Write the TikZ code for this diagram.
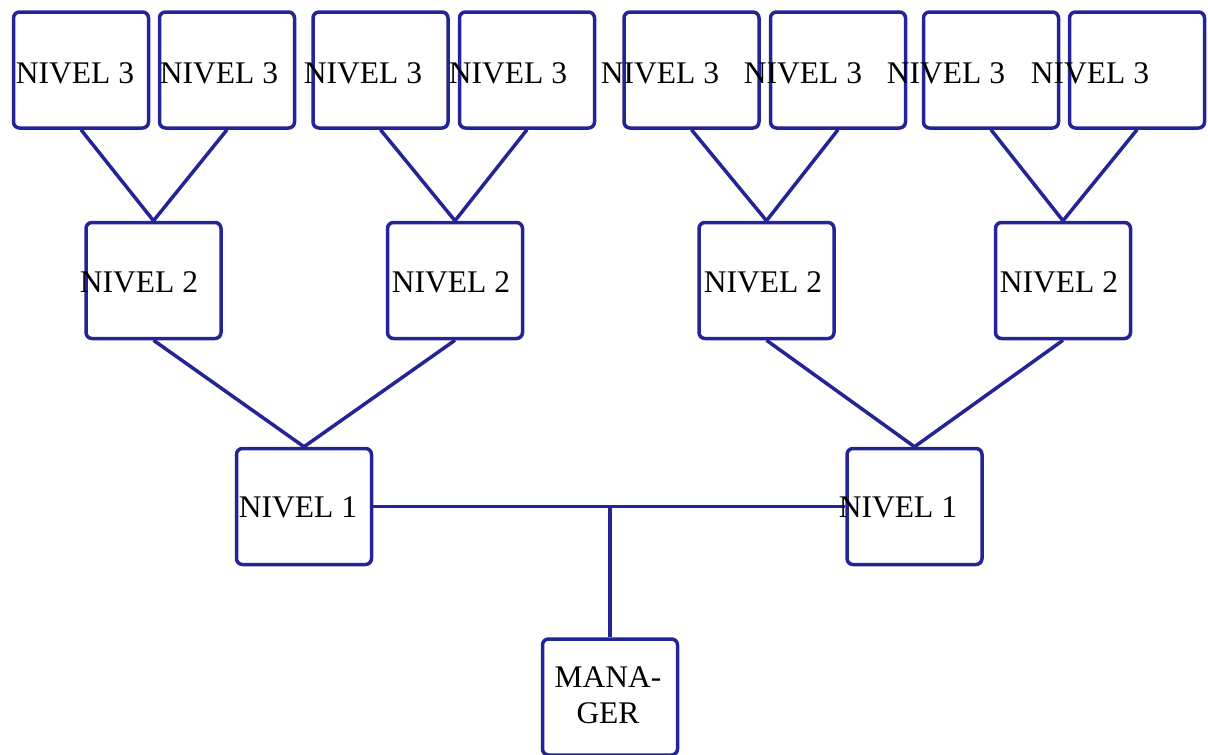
\documentclass[tikz,border=0pt]{standalone}
\usepackage{fontspec}
\setmainfont{Liberation Serif}
\usepackage{tikz}
\usetikzlibrary{calc}
\definecolor{orgblue}{RGB}{36,36,150}
\tikzset{
x=1pt, y=-1pt, % one unit per pixel, y grows downwards
box/.style={draw=orgblue, line width=3.5pt, rounded corners=6pt, minimum width=135pt, minimum height=116pt, inner sep=0pt}, % the empty boxes
lbl/.style={inner sep=0pt, anchor=base, font=\fontsize{31.5}{36}\selectfont}, % the texts, set loosely over the boxes
link/.style={draw=orgblue, line width=3.5pt},
}
\begin{document}
\begin{tikzpicture}
  \useasboundingbox (0,0) rectangle (1208,755);
  % nivel 3
  \node[box] (l3a) at (81,70) {};
  \node[box] (l3b) at (227,70) {};
  \node[box] (l3c) at (380.5,70) {};
  \node[box] (l3d) at (527,70) {};
  \node[box] (l3e) at (691.5,70) {};
  \node[box] (l3f) at (838,70) {};
  \node[box] (l3g) at (991,70) {};
  \node[box] (l3h) at (1137,70) {};
  % nivel 2
  \node[box] (l2a) at (153.5,280.5) {};
  \node[box] (l2b) at (455,280.5) {};
  \node[box] (l2c) at (766.5,280.5) {};
  \node[box] (l2d) at (1063,280.5) {};
  % nivel 1 and manager
  \node[box] (l1a) at (304,506.5) {};
  \node[box] (l1b) at (914.5,506.5) {};
  \node[box] (mgr) at (610,697) {};
  \coordinate (j) at (mgr.north |- l1a.east);

  \path[link]
  (l3a.south) edge (l2a.north)
  (l3b.south) edge (l2a.north)
  (l3c.south) edge (l2b.north)
  (l3d.south) edge (l2b.north)
  (l3e.south) edge (l2c.north)
  (l3f.south) edge (l2c.north)
  (l3g.south) edge (l2d.north)
  (l3h.south) edge (l2d.north)
  (l2a.south) edge (l1a.north)
  (l2b.south) edge (l1a.north)
  (l2c.south) edge (l1b.north)
  (l2d.south) edge (l1b.north)
  (l1a.east) edge (l1b.west)
  (j) edge (mgr.north);

  % texts
  \node[lbl] (t3a) at (75,83) {NIVEL 3};
  \node[lbl] (t3b) at (219,83) {NIVEL 3};
  \node[lbl] (t3c) at (363,83) {NIVEL 3};
  \node[lbl] (t3d) at (508,83) {NIVEL 3};
  \node[lbl] (t3e) at (660,83) {NIVEL 3};
  \node[lbl] (t3f) at (803,83) {NIVEL 3};
  \node[lbl] (t3g) at (946,83) {NIVEL 3};
  \node[lbl] (t3h) at (1090,83) {NIVEL 3};
  \node[lbl] (t2a) at (139,292) {NIVEL 2};
  \node[lbl] (t2b) at (451,292) {NIVEL 2};
  \node[lbl] (t2c) at (763,292) {NIVEL 2};
  \node[lbl] (t2d) at (1059,292) {NIVEL 2};
  \node[lbl] (t1a) at (298,517) {NIVEL 1};
  \node[lbl] (t1b) at (898,517) {NIVEL 1};
  \node[lbl, anchor=center, align=center] (tm) at (608,695) {MANA-\\GER};
\end{tikzpicture}
\end{document}
